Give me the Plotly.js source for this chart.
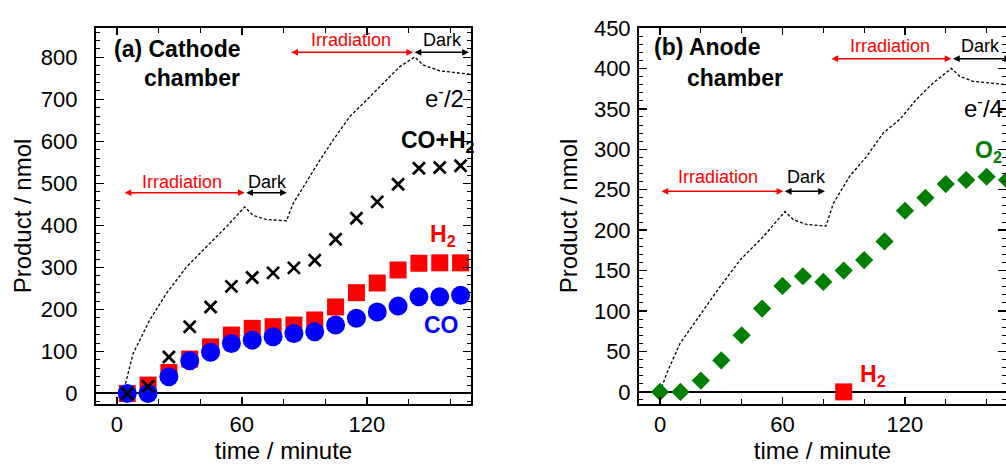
<!DOCTYPE html>
<html><head><meta charset="utf-8">
<script src="https://cdn.plot.ly/plotly-3.0.1.min.js"></script>
<style>html,body{margin:0;padding:0;background:#fff}</style>
</head><body>
<div id="chart" style="width:1006px;height:464px"></div>
<script>
// ---- Panel (a) Cathode chamber ----
const timeA = [5,15,25,35,45,55,65,75,85,95,105,115,125,135,145,155,165];
const h2A   = [0,20,50,82,111,139,155,159,163,175,206,240,263,294,310,311,311];
const coA   = [0,0,40,78,98,119,127,135,143,147,163,179,194,208,230,230,234];
const sumA  = [0,17,87,159,206,255,276,287,299,317,367,417,456,498,536,538,542];
const eTimeA = [3,7.8,15.8,23.8,33.4,43,52.6,61.4,65.4,71.8,81.4,84.6,91,97.4,103.8,111.8,119.8,127.8,135.8,143,147,155,169.4];
const eValA  = [0,95,175,238,301,349,397,444,424,414,411,452,504,555,603,659,698,738,778,801,782,768,760];

// ---- Panel (b) Anode chamber ----
const timeB = [0,10,20,30,40,50,60,70,80,90,100,110,120,130,140,150,160,170];
const o2B   = [0,0,14,39,70,103,131,143,136,150,163,186,224,240,257,262,266,262];
const h2TimeB = [90];
const h2B     = [0];
const eTimeB = [0,3.3,9.8,19.6,29.4,39.2,50.6,61.2,65.3,71.8,81.3,84.9,93,101.2,109.3,117.5,125.7,133.8,142.8,146.9,153.4,169.5];
const eValB  = [0,23,60,95,130,163,192,223,213,207,205,233,267,291,320,337,362,382,400,390,384,380];

const xTickVals = [0,60,120];

const FONT = 'Liberation Sans, Arial, sans-serif';

const traces = [
  {x:eTimeA, y:eValA, xaxis:'x', yaxis:'y', mode:'lines', name:'e-/2',
   line:{color:'#000', width:1.3, dash:'3px,2px'}, hoverinfo:'skip'},
  {x:timeA, y:h2A, xaxis:'x', yaxis:'y', mode:'markers', name:'H2',
   marker:{symbol:'square', size:17, color:'#ff0000'}},
  {x:timeA, y:coA, xaxis:'x', yaxis:'y', mode:'markers', name:'CO',
   marker:{symbol:'circle', size:19, color:'#0000ff'}},
  {x:timeA, y:sumA, xaxis:'x', yaxis:'y', mode:'markers', name:'CO+H2',
   marker:{symbol:'x-thin', size:12, color:'#000', line:{color:'#000', width:2.7}}},
  {x:eTimeB, y:eValB, xaxis:'x2', yaxis:'y2', mode:'lines', name:'e-/4',
   line:{color:'#000', width:1.3, dash:'3px,2px'}, hoverinfo:'skip'},
  {x:timeB, y:o2B, xaxis:'x2', yaxis:'y2', mode:'markers', name:'O2',
   marker:{symbol:'diamond', size:14, color:'#007f00'}},
  {x:h2TimeB, y:h2B, xaxis:'x2', yaxis:'y2', mode:'markers', name:'H2 (anode)',
   marker:{symbol:'square', size:17, color:'#ff0000'}}
];

function xax(domain, range, anchor){
  return {domain:domain, range:range, anchor:anchor, showline:true, linecolor:'#000', linewidth:2,
    mirror:'ticks', ticks:'inside', ticklen:7, tickwidth:1.5, tickcolor:'#000',
    tickvals:xTickVals, showgrid:false, zeroline:false,
    minor:{dtick:20, tick0:0, ticks:'inside', ticklen:5, tickwidth:1, tickcolor:'#000', showgrid:false},
    tickfont:{family:FONT, size:22, color:'#000'},
    title:{text:'time / minute', font:{family:FONT, size:24, color:'#000'}, standoff:6}};
}
function yax(domain, range, anchor, dtick, minor, standoffLbl, titleStandoff){
  return {domain:domain, range:range, anchor:anchor, showline:true, linecolor:'#000', linewidth:2,
    mirror:'ticks', ticks:'inside', ticklen:8, tickwidth:1.5, tickcolor:'#000',
    dtick:dtick, tick0:0, showgrid:false, zeroline:true, zerolinecolor:'#000', zerolinewidth:2,
    minor:{dtick:minor, tick0:0, ticks:'inside', ticklen:4, tickwidth:1, tickcolor:'#000', showgrid:false},
    tickfont:{family:FONT, size:22, color:'#000'}, ticklabelstandoff:standoffLbl,
    title:{text:'Product / nmol', font:{family:FONT, size:24, color:'#000'}, standoff:titleStandoff}};
}

function txt(xr, yr, x, y, text, opts){
  return Object.assign({xref:xr, yref:yr, x:x, y:y, text:text, showarrow:false,
    xanchor:'center', yanchor:'middle', font:{family:FONT, size:18, color:'#000'}}, opts||{});
}
function arrow(xr, yr, x0, x1, y, color){
  return {xref:xr, yref:yr, axref:xr, ayref:yr, x:x1, y:y, ax:x0, ay:y, text:'',
    showarrow:true, arrowside:'end+start', arrowhead:2, arrowsize:0.9, arrowwidth:1.5,
    arrowcolor:color, standoff:0, startstandoff:0};
}

const RED = '#ff0000', BLK = '#000';
const annotations = [
  // panel a
  txt('x','y',-2.5,821,'<b>(a) Cathode</b>',{xanchor:'left', font:{family:FONT,size:23,color:BLK}}),
  txt('x','y',59.9,750,'<b>chamber</b>',{xanchor:'right', font:{family:FONT,size:23,color:BLK}}),
  txt('x','y',31.5,504,'Irradiation',{font:{family:FONT,size:18,color:RED}}),
  txt('x','y',72.2,504,'Dark'),
  txt('x','y',112.6,841,'Irradiation',{font:{family:FONT,size:18,color:RED}}),
  txt('x','y',156.5,841,'Dark'),
  arrow('x','y',3,61.4,478,RED), arrow('x','y',61.4,81.6,478,BLK),
  arrow('x','y',83,142.2,812,RED), arrow('x','y',142.2,169,812,BLK),
  txt('x','y',147,706,'e<sup>-</sup>/2',{xanchor:'left', font:{family:FONT,size:24,color:BLK}}),
  txt('x','y',135.5,599,'<b>CO+H<sub>2</sub></b>',{xanchor:'left', font:{family:FONT,size:23,color:BLK}}),
  txt('x','y',149.4,377,'<b>H<sub>2</sub></b>',{xanchor:'left', font:{family:FONT,size:23,color:RED}}),
  txt('x','y',146.3,163,'<b>CO</b>',{xanchor:'left', font:{family:FONT,size:23,color:'#0000ff'}}),
  // panel b
  txt('x2','y2',-4.1,426,'<b>(b) Anode</b>',{xanchor:'left', font:{family:FONT,size:23,color:BLK}}),
  txt('x2','y2',12.2,388.5,'<b>chamber</b>',{xanchor:'left', font:{family:FONT,size:23,color:BLK}}),
  txt('x2','y2',28.6,266,'Irradiation',{font:{family:FONT,size:18,color:RED}}),
  txt('x2','y2',71.8,266,'Dark'),
  txt('x2','y2',112.6,428,'Irradiation',{font:{family:FONT,size:18,color:RED}}),
  txt('x2','y2',157,428,'Dark'),
  arrow('x2','y2',0,60.4,248,RED), arrow('x2','y2',60.4,80.8,248,BLK),
  arrow('x2','y2',83.2,142.8,412,RED), arrow('x2','y2',142.8,172,412,BLK),
  txt('x2','y2',148,352,'e<sup>-</sup>/4',{xanchor:'left', font:{family:FONT,size:24,color:BLK}}),
  txt('x2','y2',153.3,297.5,'<b>O<sub>2</sub></b>',{xanchor:'left', font:{family:FONT,size:23,color:'#007f00'}}),
  txt('x2','y2',97,20.7,'<b>H<sub>2</sub></b>',{xanchor:'left', font:{family:FONT,size:23,color:RED}})
];

const layout = {
  width:1006, height:464, margin:{l:0, r:0, t:0, b:0},
  paper_bgcolor:'#fff', plot_bgcolor:'#fff', showlegend:false,
  font:{family:FONT, color:'#000'},
  xaxis: xax([0.0954,0.4682],[-10,170],'y'),
  yaxis: yax([0.1293,0.9397],[-25,870],'x',100,20,12,2),
  xaxis2: xax([0.6352,1],[-10.3,169.5],'y2'),
  yaxis2: yax([0.1293,0.9397],[-15,450],'x2',50,10,2,9),
  annotations: annotations
};

Plotly.newPlot('chart', traces, layout, {staticPlot:true, displayModeBar:false});
</script>
</body></html>
